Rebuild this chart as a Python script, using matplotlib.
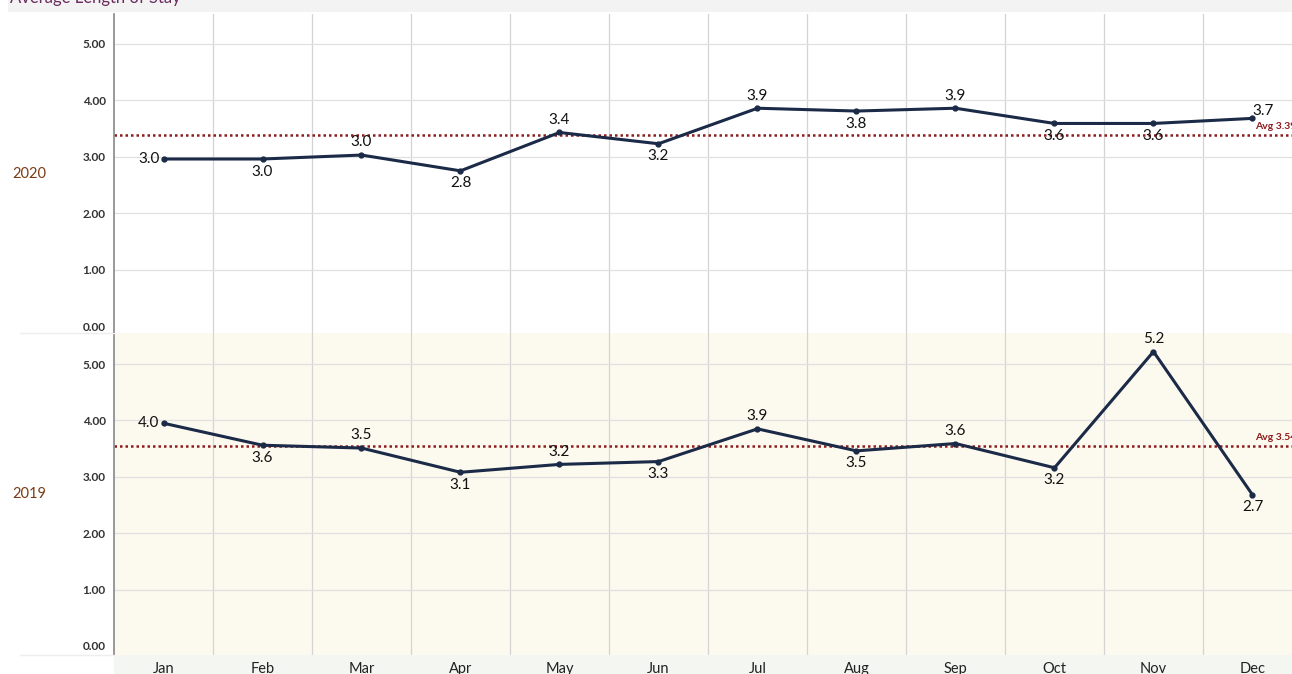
import matplotlib.pyplot as plt
from matplotlib.patches import Rectangle

plt.rcParams['font.family'] = ['Lato', 'DejaVu Sans']

months = ["Jan", "Feb", "Mar", "Apr", "May", "Jun", "Jul", "Aug", "Sep", "Oct", "Nov", "Dec"]
years = ["2020", "2019"]
stay_2020 = [2.96, 2.96, 3.03, 2.75, 3.43, 3.23, 3.86, 3.81, 3.86, 3.59, 3.59, 3.68]
stay_2019 = [3.95, 3.56, 3.51, 3.08, 3.22, 3.27, 3.85, 3.46, 3.59, 3.16, 5.22, 2.68]
avg_2020 = 3.39
avg_2019 = 3.54
yticks = [0, 1, 2, 3, 4, 5]

# where each value label sits relative to its point
pos_2020 = ["left", "below", "above", "below", "above", "below", "above", "below", "above", "below", "below", "right"]
pos_2019 = ["left", "below", "above", "below", "above", "below", "above", "below", "above", "below", "above", "below"]

W, H = 1292, 674
fig = plt.figure(figsize=(W / 100, H / 100), dpi=100)
fig.patch.set_facecolor("white")

# title band (cut off at the top like the source)
fig.patches.append(Rectangle((8 / W, 1 - 12 / H), 1, 12 / H, transform=fig.transFigure,
                             facecolor="#f3f3f3", edgecolor="none", zorder=-5))
fig.text(10 / W, 1 + 2 / H, "Average Length of Stay", color="#6b2a5e", fontsize=12,
         va="center", ha="left")

# x label band
fig.patches.append(Rectangle((114 / W, 0), 1, 19 / H, transform=fig.transFigure,
                             facecolor="#f4f6f1", edgecolor="none", zorder=-5))

left = 114 / W
width = (1302 - 114) / W
panels = [
    (years[0], stay_2020, avg_2020, pos_2020, (1 - 333 / H, 319 / H), (-0.124, 5.53), "white"),
    (years[1], stay_2019, avg_2019, pos_2019, (1 - 655 / H, 322 / H), (-0.16, 5.55), "#fcf9ef"),
]

navy = "#1b2a47"
red = "#8e1b1b"

for i, (yr, vals, avg, pos, (bot, ht), ylim, bg) in enumerate(panels):
    ax = fig.add_axes([left, bot, width, ht])
    ax.set_facecolor(bg)
    ax.set_xlim(-0.5, 11.5)
    ax.set_ylim(*ylim)
    x = list(range(len(months)))
    for b in range(1, 12):
        ax.axvline(b - 0.5, color="#d4d4d4", lw=0.9, zorder=1)
    for t in yticks[1:]:
        ax.axhline(t, color="#e0e0e0", lw=0.9, zorder=1)
    ax.axhline(avg, color=red, lw=1.8, ls=(0, (1, 1.2)), zorder=2)
    ax.text(11.03, avg + 0.07, "Avg %.2f" % avg, color=red, fontsize=7.5,
            fontweight="bold", ha="left", va="bottom", clip_on=True)
    ax.plot(x, vals, color=navy, lw=2.2, marker="o", ms=3.5, zorder=3)
    for xi, v, p in zip(x, vals, pos):
        txt = "%.1f" % v
        kw = dict(textcoords="offset points", fontsize=11, color="#111", zorder=4)
        if p == "above":
            ax.annotate(txt, (xi, v), xytext=(0, 4), ha="center", va="bottom", **kw)
        elif p == "below":
            ax.annotate(txt, (xi, v), xytext=(0, -4), ha="center", va="top", **kw)
        elif p == "left":
            ax.annotate(txt, (xi, v), xytext=(-3, 0), ha="right", va="center", **kw)
        else:
            ax.annotate(txt, (xi, v), xytext=(0, 0), ha="left", va="bottom", **kw)
    ax.set_yticks(yticks)
    ax.set_yticklabels(["%.2f" % t for t in yticks], fontsize=8.5, color="#333",
                       fontweight="bold")
    ax.tick_params(axis="y", length=0, pad=6)
    for s in ["top", "right", "bottom"]:
        ax.spines[s].set_visible(False)
    ax.spines["left"].set_color("#888")
    ax.spines["left"].set_linewidth(1.2)
    if i == 1:
        ax.set_xticks(x)
        ax.set_xticklabels(months, fontsize=10.5, color="#222")
        ax.tick_params(axis="x", length=0, pad=5)
    else:
        ax.set_xticks([])
    fig.text(12 / W, bot + ht * 0.5, yr, color="#7a3b12",
             fontsize=10.5, ha="left", va="center")

# separator between row headers
fig.add_artist(plt.Line2D([20 / W, left], [1 - 333 / H] * 2, color="#eeeeee", lw=1))
fig.add_artist(plt.Line2D([20 / W, left], [1 - 655 / H] * 2, color="#eeeeee", lw=1))

fig.savefig("out.png", dpi=100)
